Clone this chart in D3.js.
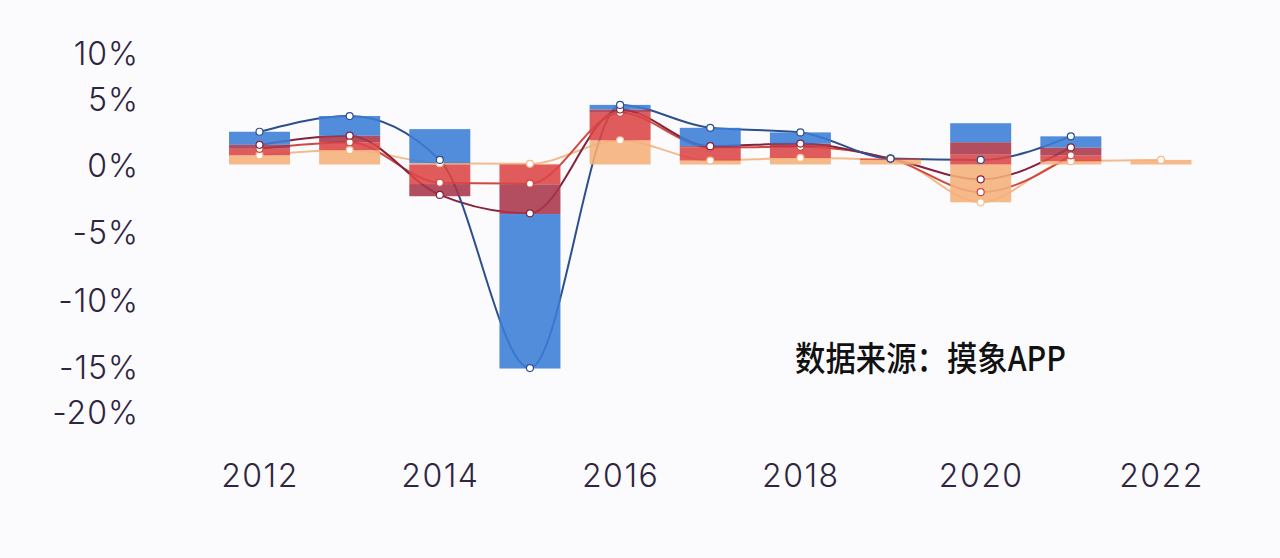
<!DOCTYPE html>
<html>
<head>
<meta charset="utf-8">
<script src="https://cdn.jsdelivr.net/npm/d3@7"></script>
<style>
  html, body { margin: 0; padding: 0; background: #fbfbfd; }
  .tick text { font-family: Inter, "Noto Sans", sans-serif; font-weight: 300; fill: #2e2540; }
</style>
</head>
<body>
<div id="chart"></div>
<script>
// Chart data (percent). Lines show the running total of the four parts.
const years = [2012, 2013, 2014, 2015, 2016, 2017, 2018, 2019, 2020, 2021, 2022];
const orangePart = [0.7, 1.1, 0.1, 0.05, 1.85, 0.3, 0.5, 0.35, -2.8, 0.25, 0.35];
const redPart    = [0.5, 0.6, -1.45, -1.47, 2.1, 1.0, 0.85, 0.1, 0.75, 0.45, null];
const maroonPart = [0.3, 0.5, -0.9, -2.2, 0.25, 0.1, 0.25, 0, 0.95, 0.6, null];
const bluePart   = [1.0, 1.5, 2.6, -11.5, 0.35, 1.4, 0.85, 0, 1.45, 0.85, null];
const yTicks = [10, 5, 0, -5, -10, -15, -20];
const xTicks = [2012, 2014, 2016, 2018, 2020, 2022];
const sourceNote = "数据来源：摸象APP";

const keys = ["orange", "red", "maroon", "blue"];
const barColor = { orange: "#f5b07a", red: "#dc4646", maroon: "#a9344a", blue: "#3a7dd6" };
const lineColor = { orange: "#f2bb8c", red: "#cf4940", maroon: "#84233a", blue: "#2d4f8e" };

const rows = years.map((yr, i) => ({
    year: yr,
    orange: orangePart[i],
    red: redPart[i],
    maroon: maroonPart[i],
    blue: bluePart[i]
}));

const W = 1280, H = 558;
const svg = d3.select("#chart").append("svg")
    .attr("width", W)
    .attr("height", H);

// scales
const x = d3.scaleLinear().domain([2012, 2022]).range([259.5, 1161]);
const y = d3.scaleLinear()
    .domain([-20, -15, 0, 5, 10])
    .range([412, 367, 164.5, 99, 53]);
const barW = 61;

// running totals for the lines
const cumul = keys.map((k, ki) => ({
    key: k,
    values: rows.map(r => {
        if (r[k] == null) return { year: r.year, v: null };
        let s = 0;
        for (let j = 0; j <= ki; j++) s += r[keys[j]] || 0;
        return { year: r.year, v: s };
    })
}));

const line = d3.line()
    .defined(d => d.v != null)
    .x(d => x(d.year))
    .y(d => y(d.v))
    .curve(d3.curveMonotoneX);

// lines under the bars
svg.append("g").selectAll("path")
    .data(cumul)
    .join("path")
    .attr("d", d => line(d.values))
    .attr("fill", "none")
    .attr("stroke", d => lineColor[d.key])
    .attr("stroke-width", 2);

// stacked bars (positive up, negative down)
const stack = d3.stack()
    .keys(keys)
    .value((d, k) => d[k] || 0)
    .offset(d3.stackOffsetDiverging);

svg.append("g").selectAll("g")
    .data(stack(rows))
    .join("g")
    .attr("fill", d => barColor[d.key])
    .selectAll("rect")
    .data(d => d)
    .join("rect")
    .attr("x", d => x(d.data.year) - barW / 2)
    .attr("y", d => y(Math.max(d[0], d[1])))
    .attr("width", barW)
    .attr("height", d => Math.abs(y(d[0]) - y(d[1])))
    .attr("opacity", 0.88);

// white point markers
cumul.forEach(c => {
    svg.append("g").selectAll("circle")
        .data(c.values.filter(d => d.v != null))
        .join("circle")
        .attr("cx", d => x(d.year))
        .attr("cy", d => y(d.v))
        .attr("r", 3.5)
        .attr("fill", "#ffffff")
        .attr("stroke", lineColor[c.key])
        .attr("stroke-width", 1.2);
});

// axes
const yAxis = svg.append("g")
    .attr("transform", "translate(139,0)")
    .call(d3.axisLeft(y).tickValues(yTicks).tickSize(0).tickPadding(0).tickFormat(d => d + "%"));
yAxis.select(".domain").remove();
yAxis.selectAll("text")
    .attr("font-size", 32)
    .attr("letter-spacing", "1px")
    .attr("dy", "0.36em");

const xAxis = svg.append("g")
    .attr("transform", "translate(0,464)")
    .call(d3.axisBottom(x).tickValues(xTicks).tickSize(0).tickPadding(0).tickFormat(d3.format("d")));
xAxis.select(".domain").remove();
xAxis.selectAll("text")
    .attr("font-size", 32)
    .attr("letter-spacing", "1.5px")
    .attr("dy", "0.71em");

// source note (narrow, tall lettering)
svg.append("text")
    .attr("transform", "translate(795,371) scale(0.95,1.08)")
    .attr("font-family", "'Noto Sans CJK SC', sans-serif")
    .attr("font-weight", 500)
    .attr("font-size", 32)
    .attr("fill", "#111111")
    .text(sourceNote);
</script>
</body>
</html>
